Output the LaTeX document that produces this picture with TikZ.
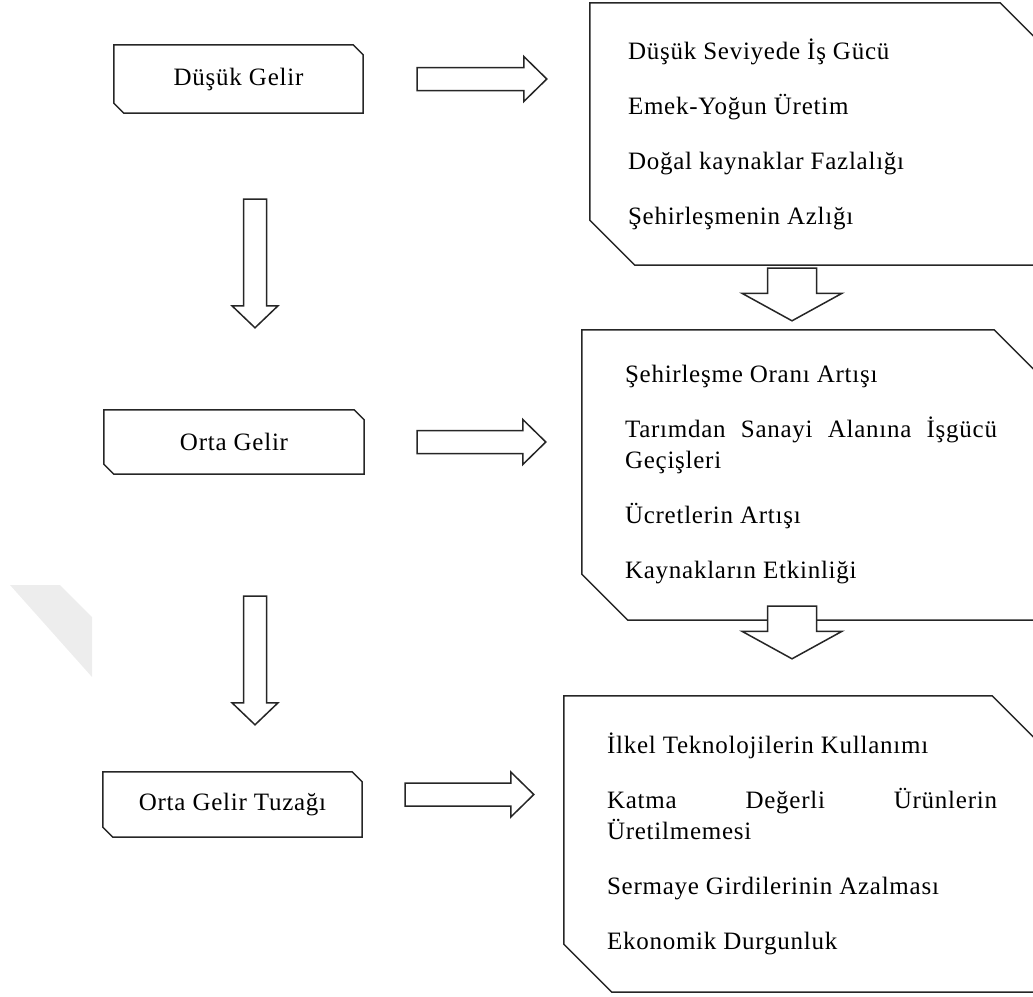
\documentclass[tikz,border=0pt]{standalone}
\usepackage{fontspec}
\setmainfont{Liberation Serif}[LetterSpace=3]
\usetikzlibrary{calc}

\tikzset{
  frame/.style={draw=black!85,line width=1.5pt},
  box/.style={rectangle,inner sep=0pt},
  list/.style={rectangle,inner xsep=43pt,inner ysep=0pt,align=justify,
    execute at begin node={\parindent=0pt\parskip=24pt\hyphenpenalty=10000\tolerance=10000}},
  rarrow/.style={frame,fill=white,to path={let \p1=(\tikztostart),\p2=(\tikztotarget) in
    (\x1,\y1+11.5pt) -- (\x2-23pt,\y1+11.5pt) -- (\x2-23pt,\y1+22.5pt) -- (\x2,\y1)
    -- (\x2-23pt,\y1-22.5pt) -- (\x2-23pt,\y1-11.5pt) -- (\x1,\y1-11.5pt) -- cycle}},
  darrow/.style n args={3}{frame,fill=white,to path={let \p1=(\tikztostart),\p2=(\tikztotarget) in
    (\x1-#1,\y1) -- (\x1-#1,\y2+#3) -- (\x1-#2,\y2+#3) -- (\x1,\y2)
    -- (\x1+#2,\y2+#3) -- (\x1+#1,\y2+#3) -- (\x1+#1,\y1) -- cycle}}
}

\begin{document}
\begin{tikzpicture}[x=1pt,y=-1pt,font=\fontsize{25}{31}\selectfont]
\useasboundingbox (0,0) rectangle (1033,996);
\clip (0,0) rectangle (1033,996);
\fill[black!7] (10,585) -- (60,585) -- (92,617) -- (92,677) -- cycle;

\node[box,minimum width=249pt,minimum height=68pt] (low) at (238.5,79) {Düşük Gelir};
\node[box,minimum width=260pt,minimum height=64pt] (mid) at (234,442) {Orta Gelir};
\node[box,minimum width=259pt,minimum height=65pt] (trap) at (232.5,804.5) {Orta Gelir Tuzağı};

\node[list,inner xsep=38pt,text width=379pt,minimum height=262pt] (lowlist) at (817.5,134)
  {Düşük Seviyede İş Gücü\par Emek-Yoğun Üretim\par Doğal kaynaklar Fazlalığı\par Şehirleşmenin Azlığı};
\node[list,text width=372pt,minimum height=290pt] (midlist) at (811,475)
  {Şehirleşme Oranı Artışı\par Tarımdan Sanayi Alanına İşgücü Geçişleri\par Ücretlerin Artışı\par Kaynakların Etkinliği};
\node[list,text width=390pt,minimum height=296pt] (traplist) at (802,844)
  {İlkel Teknolojilerin Kullanımı\par Katma Değerli Ürünlerin Üretilmemesi\par Sermaye Girdilerinin Azalması\par Ekonomik Durgunluk};

% cut corners
\foreach \nm/\ch in {low/10pt,mid/10pt,trap/10pt,lowlist/45pt,midlist/46pt,traplist/48pt}
  \draw[frame] (\nm.north west) -- ([xshift=-\ch]\nm.north east) -- ([yshift=-\ch]\nm.north east)
    -- (\nm.south east) -- ([xshift=\ch]\nm.south west) -- ([yshift=\ch]\nm.south west) -- cycle;

\draw[rarrow] ([xshift=54pt]low.east) to ([xshift=-43pt]lowlist.west);
\draw[rarrow] ([xshift=53pt]mid.east) to ([xshift=-36pt]midlist.west);
\draw[rarrow] ([xshift=43pt,yshift=10pt]trap.east) to ([xshift=-30pt]traplist.west);

\draw[darrow={11.5pt}{23pt}{22pt}] ([xshift=16.5pt,yshift=-86pt]low.south) to ([yshift=82pt]mid.north);
\draw[darrow={11.5pt}{23pt}{22pt}] ([xshift=21pt,yshift=-122pt]mid.south) to ([yshift=47pt]trap.north);
\draw[darrow={24.5pt}{50pt}{27.5pt}] ([xshift=-25.5pt,yshift=-3pt]lowlist.south) to ([yshift=9pt]midlist.north);
\draw[darrow={24.5pt}{50pt}{27.5pt}] ([xshift=-19pt,yshift=14pt]midlist.south) to ([yshift=37pt]traplist.north);
\end{tikzpicture}
\end{document}
